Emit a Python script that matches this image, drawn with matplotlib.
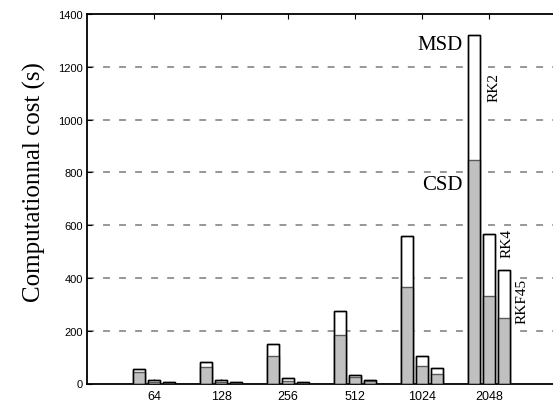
import numpy as np
import matplotlib
matplotlib.use("Agg")
import matplotlib.pyplot as plt

# Grid sizes and per-integrator costs (seconds)
grid_sizes = ["64", "128", "256", "512", "1024", "2048"]
methods = ["RK2", "RK4", "RKF45"]

msd_rk2 = [55, 83, 148, 276, 557, 1322]
msd_rk4 = [12, 12, 19, 33, 106, 568]
msd_rkf45 = [4, 4, 6, 14, 59, 430]

csd_rk2 = [42, 63, 104, 185, 366, 848]
csd_rk4 = [7, 7, 11, 23, 66, 332]
csd_rkf45 = [2, 2, 3, 10, 37, 249]

msd = [msd_rk2, msd_rk4, msd_rkf45]
csd = [csd_rk2, csd_rk4, csd_rkf45]

W, H = 553, 406
fig = plt.figure(figsize=(W / 100, H / 100), dpi=100)
ax = fig.add_axes([87 / W, 1 - 384.5 / H, (556 - 87) / W, (384.5 - 15) / H])

x = np.arange(1, len(grid_sizes) + 1)
offsets = [-0.224, 0.0, 0.224]
width = 0.19

for k in range(3):
    pos = x + offsets[k]
    ax.bar(pos, msd[k], width, color="white", edgecolor="black", linewidth=1.0, zorder=2)
    ax.bar(pos, csd[k], width, color="#c0c0c0", edgecolor="#5a5a5a", linewidth=1.0, zorder=3)
    ax.bar(pos, msd[k], width, fill=False, edgecolor="black", linewidth=1.0, zorder=4)

# Dashed horizontal guides
for yv in range(200, 1400, 200):
    ax.axhline(yv, color="#7a7a7a", linewidth=1.1, linestyle=(0, (4.5, 6.0)), zorder=1)

ax.set_xlim(0, 7)
ax.set_ylim(0, 1400)
ax.set_xticks(x)
ax.set_xticklabels(grid_sizes, family="Liberation Sans", fontsize=9)
ax.set_yticks(range(0, 1401, 200))
ax.set_yticklabels([str(v) for v in range(0, 1401, 200)], family="Liberation Sans", fontsize=8)
ax.tick_params(direction="in", length=3.5, width=0.8, top=True, right=False, pad=3)
ax.tick_params(axis="x", pad=5)
for s in ["left", "bottom", "top"]:
    ax.spines[s].set_linewidth(1.3)
ax.spines["right"].set_visible(False)

ax.set_ylabel("Computationnal cost (s)", family="Liberation Serif", fontsize=18)
ax.yaxis.set_label_coords(-(87 - 46) / (556 - 87), (384.5 - 182.5) / (384.5 - 15))

serif = dict(family="Liberation Serif")
ax.text(6 + offsets[0] - 0.17, msd_rk2[-1], "MSD", ha="right", va="top", fontsize=15, **serif)
ax.text(6 + offsets[0] - 0.17, 755, "CSD", ha="right", va="center", fontsize=15, **serif)
ax.text(6.07, 1125, "RK2", rotation=90, ha="center", va="center", fontsize=11, **serif)
ax.text(6.27, 536, "RK4", rotation=90, ha="center", va="center", fontsize=11, **serif)
ax.text(6.49, 313, "RKF45", rotation=90, ha="center", va="center", fontsize=11, **serif)

fig.savefig("out.png", dpi=100)
